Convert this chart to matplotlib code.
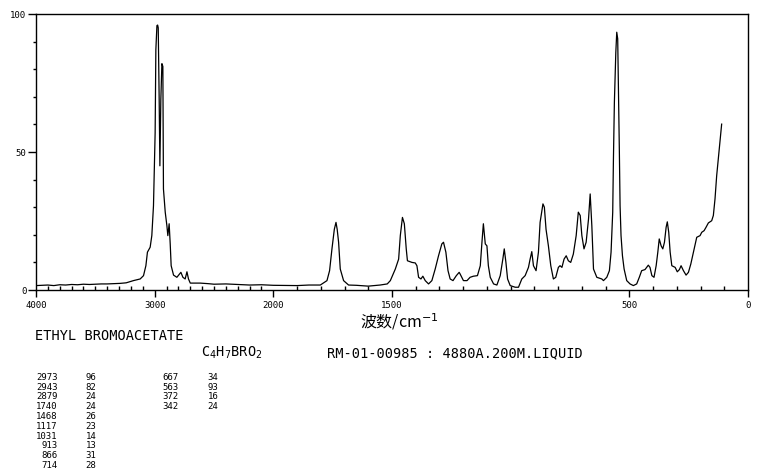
import matplotlib
matplotlib.use("Agg")
import matplotlib.pyplot as plt
from matplotlib.ticker import FixedLocator, NullFormatter
import numpy as np

# Raman spectrum of ethyl bromoacetate
wavenumber = [4000, 3950, 3900, 3850, 3800, 3750, 3700, 3650, 3600, 3550,
              3500, 3450, 3400, 3350, 3291, 3240, 3179, 3122, 3094, 3074,
              3061, 3038, 3024, 3010, 2996, 2990, 2981, 2975, 2970, 2962,
              2956, 2948, 2939, 2931, 2926, 2911, 2897, 2889, 2878, 2869,
              2861, 2841, 2813, 2779, 2762, 2743, 2728, 2715, 2700, 2616,
              2550, 2500, 2400, 2300, 2200, 2100, 2000, 1900, 1850, 1802,
              1774, 1763, 1753, 1743, 1736, 1731, 1725, 1718, 1704, 1683,
              1650, 1600, 1550, 1520, 1507, 1486, 1472, 1465, 1456, 1448,
              1440, 1435, 1416, 1402, 1395, 1388, 1378, 1370, 1360, 1346,
              1332, 1318, 1304, 1290, 1283, 1273, 1264, 1255, 1243, 1229,
              1217, 1213, 1199, 1184, 1171, 1157, 1140, 1128, 1121, 1115,
              1107, 1100, 1094, 1086, 1072, 1058, 1044, 1033, 1027, 1020,
              1013, 1002, 981, 967, 953, 939, 925, 918, 911, 904,
              893, 883, 876, 864, 858, 851, 841, 831, 820, 810,
              799, 792, 784, 775, 766, 757, 747, 736, 724, 715,
              707, 700, 691, 682, 672, 665, 658, 651, 637, 616,
              609, 595, 584, 577, 570, 567, 563, 557, 553, 549,
              546, 542, 539, 535, 529, 522, 511, 497, 483, 469,
              458, 448, 434, 420, 413, 405, 396, 387, 380, 374,
              366, 359, 352, 345, 340, 334, 328, 321, 307, 298,
              289, 282, 272, 261, 251, 241, 230, 216, 202, 195,
              185, 177, 167, 153, 146, 139, 132, 125, 118, 114,
              111]
intensity = [1.6, 1.7, 1.8, 1.6, 1.9, 1.8, 2.0, 1.9, 2.1, 2.0,
             2.1, 2.2, 2.2, 2.3, 2.4, 2.6, 3.4, 4.0, 5.2, 8.8,
             13.7, 15.5, 19.7, 30.5, 57.0, 87.0, 95.8, 96.0, 95.0, 69.0,
             45.0, 69.0, 82.0, 81.0, 36.6, 28.2, 23.3, 19.7, 24.0, 16.7,
             8.8, 5.4, 4.6, 6.4, 4.6, 4.0, 6.6, 4.0, 2.5, 2.5,
             2.3, 2.1, 2.2, 2.0, 1.8, 1.9, 1.7, 1.6, 1.8, 1.8,
             3.4, 7.0, 14.9, 22.0, 24.5, 22.0, 17.3, 7.6, 3.4, 1.8,
             1.7, 1.4, 1.8, 2.2, 3.4, 7.6, 11.2, 19.7, 26.3, 24.0,
             14.9, 10.6, 10.0, 9.8, 8.8, 4.6, 4.0, 5.0, 3.4, 2.2,
             3.4, 7.6, 12.4, 16.7, 17.3, 13.7, 7.0, 4.0, 3.4, 5.2,
             6.4, 5.8, 3.4, 3.4, 4.6, 5.0, 5.2, 8.8, 17.3, 24.0,
             16.7, 16.0, 8.8, 4.6, 2.2, 1.8, 5.2, 11.2, 14.9, 10.0,
             4.0, 1.6, 1.0, 1.0, 4.0, 5.2, 8.2, 11.2, 13.9, 8.8,
             7.0, 13.7, 24.5, 31.2, 30.0, 22.0, 16.0, 8.8, 4.0, 4.6,
             8.2, 8.8, 8.2, 11.2, 12.4, 10.6, 10.0, 13.0, 19.7, 28.2,
             27.0, 19.7, 14.9, 17.3, 25.7, 34.8, 23.3, 7.6, 4.6, 4.0,
             3.4, 4.6, 7.0, 13.7, 28.2, 47.5, 68.0, 86.0, 93.4, 91.0,
             74.0, 50.0, 30.5, 19.7, 12.4, 7.6, 3.4, 2.2, 1.6, 2.2,
             4.6, 7.0, 7.4, 9.0, 8.2, 5.2, 4.6, 8.8, 13.7, 18.5,
             16.0, 14.9, 17.3, 22.7, 24.7, 20.9, 13.7, 8.8, 8.2, 6.6,
             7.4, 8.8, 7.0, 5.4, 6.4, 9.4, 13.7, 19.1, 19.7, 20.9,
             21.5, 22.7, 24.3, 25.1, 27.0, 33.0, 41.4, 47.5, 53.5, 57.1,
             60.1]

# peak table printed under the chart
peak_wn = ["2973", "2943", "2879", "1740", "1468", "1117", "1031", "913",
           "866", "714", "667", "563", "372", "342"]
peak_int = ["96", "82", "24", "24", "26", "23", "14", "13", "31", "28",
            "34", "93", "16", "24"]

x_major = [4000, 3000, 2000, 1500, 500, 0]
x_labels = ["4000", "3000", "2000", "1500", "500", "0"]
y_major = [0, 50, 100]

title = "ETHYL BROMOACETATE"
formula = r"C$_4$H$_7$BRO$_2$"
info = "RM-01-00985 : 4880A.200M.LIQUID"


def fwd(w):
    # above 2000 cm-1 the axis is compressed by half
    w = np.asarray(w, dtype=float)
    return np.where(w > 2000, 2000 + (w - 2000) / 2, w)


def inv(v):
    v = np.asarray(v, dtype=float)
    return np.where(v > 2000, 2000 + (v - 2000) * 2, v)


mono = "DejaVu Sans Mono"

fig = plt.figure(figsize=(7.61, 4.77), dpi=100)
ax = fig.add_axes([36 / 761, 1 - 291 / 477, 712 / 761, 276 / 477])

ax.plot(wavenumber, intensity, color="black", lw=0.9)

ax.set_xscale("function", functions=(fwd, inv))
ax.set_xlim(4000, 0)
ax.set_ylim(0, 100)

ax.xaxis.set_major_locator(FixedLocator(x_major))
ax.set_xticklabels(x_labels, fontfamily=mono, fontsize=6.5)
ax.xaxis.set_minor_locator(FixedLocator(list(range(0, 4001, 100))))
ax.xaxis.set_minor_formatter(NullFormatter())
ax.yaxis.set_major_locator(FixedLocator(y_major))
ax.set_yticklabels([str(v) for v in y_major], fontfamily=mono, fontsize=6.5)
ax.yaxis.set_minor_locator(FixedLocator(list(range(0, 101, 10))))

ax.tick_params(axis="x", which="major", direction="out", length=5, width=1, pad=2)
ax.tick_params(axis="x", which="minor", direction="in", length=3, width=1)
ax.tick_params(axis="y", which="major", direction="out", length=6, width=1, pad=1)
ax.tick_params(axis="y", which="minor", direction="out", length=2.5, width=1)
for s in ax.spines.values():
    s.set_linewidth(1)

ax.set_xlabel(r"波数/cm$^{-1}$", family=["Noto Sans CJK SC", "DejaVu Sans"],
              fontsize=11.5, labelpad=2)
ax.xaxis.set_label_coords(0.51, -0.075)

# text block below the axes
fig.text(35 / 761, 1 - 336 / 477, title, fontfamily=mono, fontsize=9.8, va="center")
fig.text(201 / 761, 1 - 353 / 477, formula, fontfamily=mono, fontsize=9.8, va="center")
fig.text(327 / 761, 1 - 353 / 477, info, fontfamily=mono, fontsize=9.8, va="center")

for i in range(len(peak_wn)):
    col = i // 10
    row = i % 10
    y = 1 - (377.3 + row * 9.8) / 477
    xw = [57.5, 178.5][col] / 761
    xi = [96.5, 218.5][col] / 761
    fig.text(xw, y, peak_wn[i], fontfamily=mono, fontsize=6.5, ha="right", va="center")
    fig.text(xi, y, peak_int[i], fontfamily=mono, fontsize=6.5, ha="right", va="center")

fig.savefig("out.png", dpi=100)
